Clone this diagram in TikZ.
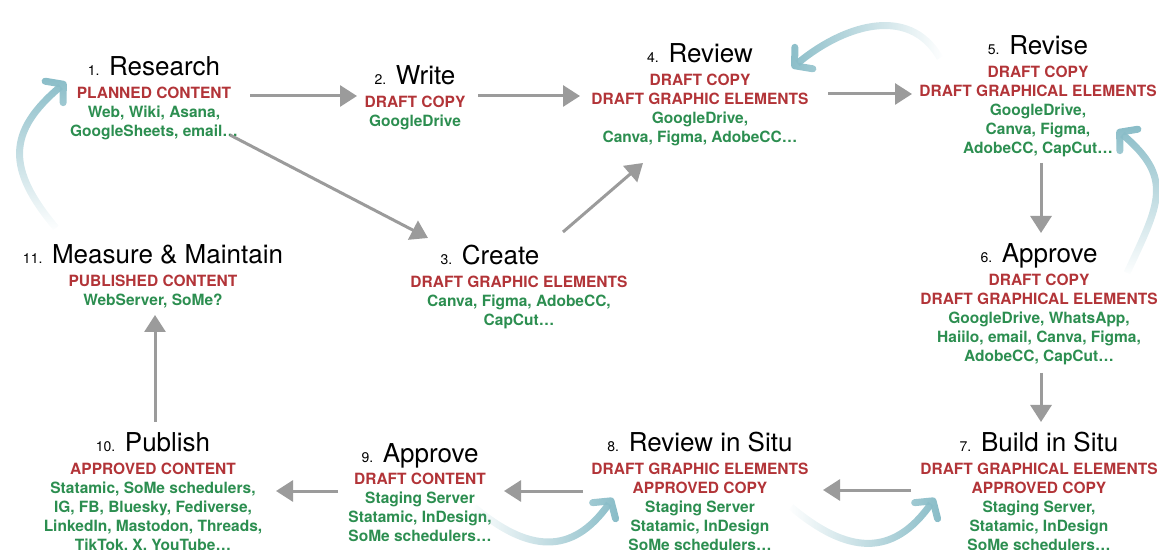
\documentclass[tikz,border=0pt]{standalone}
\usepackage{fontspec}
\setmainfont{TeX Gyre Heros}
\usetikzlibrary{positioning, arrows.meta, fadings}

\definecolor{stagered}{RGB}{178,52,56}
\definecolor{toolgreen}{RGB}{44,142,80}
\definecolor{flowgray}{RGB}{155,155,155}
\definecolor{loopblue}{RGB}{138,189,200}

\newcommand\stepno[1]{{\fontsize{14}{16}\selectfont #1.}}
\newcommand\artefact[1]{\textcolor{stagered}{#1}}
\newcommand\toolset[1]{\textcolor{toolgreen}{#1}}

\tikzfading[name=fade in, left color=transparent!100, right color=transparent!0]

\begin{document}
\begin{tikzpicture}
        [
            x=1pt, y=1pt,
            title/.style={font=\fontsize{26}{30}\selectfont, anchor=base, inner sep=0pt},
            info/.style={font=\bfseries\fontsize{15.5}{19}\selectfont, align=center, inner sep=0pt},
            flow/.style={draw=flowgray, line width=3pt, -{Triangle[length=17pt, width=21pt]}},
            backloop/.style={draw=loopblue, line width=7pt, path fading=fade in,
                -{Straight Barb[round, length=12pt, width=28pt]}}
        ]
        \useasboundingbox (0,0) rectangle (1159,549);

        % stage titles
        \node[title] (s1) at (154,473) {\stepno{1} Research};
        \node[title] (s2) at (415,464) {\stepno{2} Write};
        \node[title] (s3) at (490,284) {\stepno{3} Create};
        \node[title] (s4) at (700,486) {\stepno{4} Review};
        \node[title] (s5) at (1038,494) {\stepno{5} Revise};
        \node[title] (s6) at (1039,286) {\stepno{6} Approve};
        \node[title] (s7) at (1039,97) {\stepno{7} Build in Situ};
        \node[title] (s8) at (700,97) {\stepno{8} Review in Situ};
        \node[title] (s9) at (420,87) {\stepno{9} Approve};
        \node[title] (s10) at (153,97) {\stepno{10} Publish};
        \node[title] (s11) at (153,285) {\stepno{11} Measure \& Maintain};

        % what each stage produces and the tools used
        \node[info, below=11pt of s1.base] (i1) {\artefact{PLANNED CONTENT}\\ \toolset{Web, Wiki, Asana,}\\ \toolset{GoogleSheets, email…}};
        \node[info, below=11pt of s2.base] (i2) {\artefact{DRAFT COPY}\\ \toolset{GoogleDrive}};
        \node[info, below=11pt of s3.base, xshift=29pt] (i3) {\artefact{DRAFT GRAPHIC ELEMENTS}\\ \toolset{Canva, Figma, AdobeCC,}\\ \toolset{CapCut…}};
        \node[info, below=11pt of s4.base] (i4) {\artefact{DRAFT COPY}\\ \artefact{DRAFT GRAPHIC ELEMENTS}\\ \toolset{GoogleDrive,}\\ \toolset{Canva, Figma, AdobeCC…}};
        \node[info, below=11pt of s5.base] (i5) {\artefact{DRAFT COPY}\\ \artefact{DRAFT GRAPHICAL ELEMENTS}\\ \toolset{GoogleDrive,}\\ \toolset{Canva, Figma,}\\ \toolset{AdobeCC, CapCut…}};
        \node[info, below=11pt of s6.base] (i6) {\artefact{DRAFT COPY}\\ \artefact{DRAFT GRAPHICAL ELEMENTS}\\ \toolset{GoogleDrive, WhatsApp,}\\ \toolset{Haiilo, email, Canva, Figma,}\\ \toolset{AdobeCC, CapCut…}};
        \node[info, below=11pt of s7.base] (i7) {\artefact{DRAFT GRAPHICAL ELEMENTS}\\ \artefact{APPROVED COPY}\\ \toolset{Staging Server,}\\ \toolset{Statamic, InDesign}\\ \toolset{SoMe schedulers…}};
        \node[info, below=11pt of s8.base] (i8) {\artefact{DRAFT GRAPHIC ELEMENTS}\\ \artefact{APPROVED COPY}\\ \toolset{Staging Server}\\ \toolset{Statamic, InDesign}\\ \toolset{SoMe schedulers…}};
        \node[info, below=11pt of s9.base] (i9) {\artefact{DRAFT CONTENT}\\ \toolset{Staging Server}\\ \toolset{Statamic, InDesign,}\\ \toolset{SoMe schedulers…}};
        \node[info, below=11pt of s10.base] (i10) {\artefact{APPROVED CONTENT}\\ \toolset{Statamic, SoMe schedulers,}\\ \toolset{IG, FB, Bluesky, Fediverse,}\\ \toolset{LinkedIn, Mastodon, Threads,}\\ \toolset{TikTok, X, YouTube…}};
        \node[info, below=11pt of s11.base] (i11) {\artefact{PUBLISHED CONTENT}\\ \toolset{WebServer, SoMe?}};

        % main flow
        \draw[flow] ([shift={(96,-20)}]s1.base) -- ([shift={(-58,-11)}]s2.base);
        \draw[flow] ([shift={(63,-11)}]s2.base) -- ([shift={(-120,-33)}]s4.base);
        \draw[flow] ([shift={(128,-31)}]s4.base) -- ([shift={(-126,-39)}]s5.base);
        \draw[flow] ([shift={(76,-59)}]s1.base) -- ([shift={(-62,27)}]s3.base);
        \draw[flow] ([shift={(73,33)}]s3.base) -- ([shift={(-57,-100)}]s4.base);
        \draw[flow] ([shift={(3,-108)}]s5.base) -- ([shift={(2,30)}]s6.base);
        \draw[flow] ([shift={(2,-110)}]s6.base) -- ([shift={(2,30)}]s7.base);
        \draw[flow] ([shift={(-128,-38)}]s7.base) -- ([shift={(123,-38)}]s8.base);
        \draw[flow] ([shift={(-117,-39)}]s8.base) -- ([shift={(84,-29)}]s9.base);
        \draw[flow] ([shift={(-82,-29)}]s9.base) -- ([shift={(123,-39)}]s10.base);
        \draw[flow] ([shift={(2,30)}]s10.base) -- ([shift={(2,-51)}]s11.base);

        % loops back
        \draw[backloop, fading angle=90] ([shift={(-97,36)}]s11.base) to[out=130, in=220, looseness=1.35] ([shift={(-88,-6)}]s1.base);
        \draw[backloop, fading angle=180] ([shift={(-98,-3)}]s5.base) to[out=120, in=40, looseness=1.1] ([shift={(92,-5)}]s4.base);
        \draw[backloop, fading angle=90] ([shift={(88,-10)}]s6.base) to[out=65, in=-40, looseness=1.35] ([shift={(79,-75)}]s5.base);
        \draw[backloop] ([shift={(54,-45)}]s9.base) to[out=-40, in=235, looseness=1.3] ([shift={(-87,-46)}]s8.base);
        \draw[backloop] ([shift={(91,-55)}]s8.base) to[out=-40, in=235, looseness=1.3] ([shift={(-104,-46)}]s7.base);
\end{tikzpicture}
\end{document}
